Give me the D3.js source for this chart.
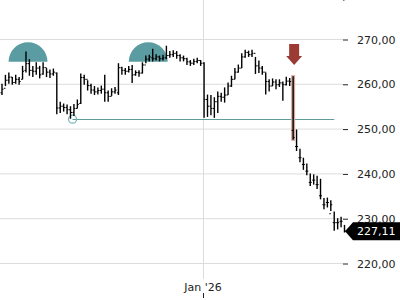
<!DOCTYPE html>
<html>
<head>
<meta charset="utf-8">
<script src="https://cdn.jsdelivr.net/npm/d3@7/dist/d3.min.js"></script>
<style>
  body { margin: 0; background: #fff; }
  svg { display: block; font-family: "DejaVu Sans", sans-serif; }
</style>
</head>
<body>
<div class="chart"></div>
<script>
// OHLC bars, one per session (index 0..100)
var opens  = [258.0,259.0,260.8,261.5,260.3,261.0,261.0,263.0,264.5,263.0,262.8,263.5,262.2,263.6,262.6,262.2,262.4,254.6,255.0,254.7,254.2,253.6,254.5,255.6,261.4,261.0,259.6,258.6,258.2,258.5,258.8,258.0,257.2,258.2,258.0,263.6,263.0,262.8,263.2,262.0,262.5,262.4,264.2,265.5,265.8,265.6,266.0,265.6,265.8,266.3,266.5,266.8,266.3,265.8,265.6,264.9,264.6,265.0,265.2,264.6,256.5,255.0,254.5,256.0,257.2,257.0,257.5,259.5,261.0,262.6,263.5,266.0,267.0,266.5,266.8,264.0,263.5,262.6,260.5,259.5,260.4,259.8,260.2,259.8,260.6,249.6,246.0,243.5,242.0,240.5,238.0,238.5,237.5,235.0,233.0,233.5,231.0,229.0,229.0,229.3];
var highs  = [260.0,262.0,262.5,261.5,262.0,261.5,264.0,267.2,265.5,264.0,264.8,264.0,264.8,263.5,263.2,263.4,262.5,256.0,255.6,255.4,255.0,255.5,256.5,262.3,262.0,260.8,260.0,259.5,259.2,259.6,262.0,258.5,259.0,259.3,264.6,263.8,263.5,264.0,264.2,263.0,263.0,264.8,266.3,266.5,267.8,266.6,266.3,266.5,268.5,267.3,267.5,267.3,266.6,266.3,265.8,265.3,265.6,265.8,265.3,264.8,257.6,257.5,257.0,258.3,258.0,259.2,260.3,261.8,263.5,264.3,266.8,267.6,267.4,267.6,266.0,265.2,264.0,262.5,261.0,261.2,261.0,261.0,260.5,261.6,261.3,261.7,249.8,245.5,243.5,242.2,240.0,239.8,239.5,238.8,234.5,234.6,234.0,231.5,230.0,230.3,228.5];
var lows   = [257.5,259.5,260.0,259.8,260.0,259.8,261.0,262.5,261.8,261.5,262.0,261.2,262.0,261.5,261.3,261.8,253.2,253.5,253.8,253.2,252.2,252.8,254.5,255.5,259.8,258.5,257.8,257.5,257.6,257.8,256.0,256.0,257.3,257.8,257.5,262.0,262.0,262.5,260.2,261.8,261.6,262.3,264.6,265.0,265.0,265.2,265.0,265.2,265.5,265.8,266.0,265.6,265.0,265.0,264.2,264.0,264.2,264.6,264.0,252.4,252.6,253.0,252.4,253.5,256.0,255.8,257.5,259.3,261.0,262.5,263.5,265.8,266.0,266.0,262.2,262.4,262.0,257.6,258.3,259.5,258.8,259.3,256.2,259.6,259.5,247.5,245.0,242.5,240.8,239.6,237.2,237.5,236.5,234.2,232.0,232.4,231.6,227.2,227.5,228.0,226.8];
var closes = [258.8,260.8,261.5,260.3,261.0,260.5,262.8,264.5,263.0,262.8,263.5,262.0,263.6,262.6,262.2,262.6,254.6,255.0,254.7,254.2,253.6,254.5,255.4,261.4,261.0,259.6,258.6,258.2,258.5,258.8,258.0,257.2,258.2,258.6,263.6,263.0,262.8,263.2,262.0,262.5,262.4,264.2,265.5,266.0,265.6,266.0,265.6,265.8,266.3,266.5,266.8,266.3,265.8,265.6,264.9,264.6,265.0,265.2,264.6,256.5,255.0,254.5,256.0,257.2,257.0,257.5,259.5,261.0,262.6,263.5,266.0,267.0,266.5,266.8,264.0,263.5,262.6,260.5,259.5,260.4,259.8,260.2,259.8,260.6,260.5,248.0,246.0,243.5,242.0,240.5,238.0,238.5,237.5,235.0,233.0,233.5,233.0,229.0,229.0,229.3,227.11];

var yTicks = [220, 230, 240, 250, 260, 270];
var xTickIndex = [59];
var xTickLabels = ["Jan '26"];

// annotations
var domeIndex = [7.6, 42.7];   // teal half circles
var domeLevel = 264.9;
var arrowIndex = 85.3;          // red down arrow
var flagIndex = 85;             // highlighted bar
var supportStart = 20.6, supportEnd = 97, supportLevel = 252.1;
var lastPrice = 227.11;

var width = 400, height = 300;

var svg = d3.select(".chart")
    .append("svg")
    .attr("width", width)
    .attr("height", height);

var x = d3.scaleLinear().domain([0, closes.length - 1]).range([2, 344.5]);
var y = d3.scaleLinear().domain([220, 270]).range([263, 39]);
var fmt = function (d) { return d.toFixed(2).replace(".", ","); };

// grid
svg.selectAll("line.hgrid")
    .data(yTicks)
    .enter()
    .append("line")
    .attr("class", "hgrid")
    .attr("x1", 0).attr("x2", 343)
    .attr("y1", function (d) { return y(d) + 0.5; })
    .attr("y2", function (d) { return y(d) + 0.5; })
    .attr("stroke", "#dcdcdc");

svg.selectAll("line.vgrid")
    .data(xTickIndex)
    .enter()
    .append("line")
    .attr("class", "vgrid")
    .attr("x1", function (d) { return Math.round(x(d)) - 0.5; })
    .attr("x2", function (d) { return Math.round(x(d)) - 0.5; })
    .attr("y1", 0).attr("y2", 279)
    .attr("stroke", "#dcdcdc");

// teal domes behind the bars
var arc = d3.arc().innerRadius(0).outerRadius(19.5).startAngle(-Math.PI / 2).endAngle(Math.PI / 2);
svg.selectAll("path.dome")
    .data(domeIndex)
    .enter()
    .append("path")
    .attr("class", "dome")
    .attr("d", arc)
    .attr("transform", function (d) { return "translate(" + x(d) + "," + y(domeLevel) + ")"; })
    .attr("fill", "#5a9ca1");

// support line + circle
svg.append("line")
    .attr("x1", x(supportStart)).attr("x2", x(supportEnd))
    .attr("y1", Math.round(y(supportLevel)) + 0.5).attr("y2", Math.round(y(supportLevel)) + 0.5)
    .attr("stroke", "#5f9c9a");

svg.append("circle")
    .attr("cx", x(supportStart)).attr("cy", y(supportLevel))
    .attr("r", 4)
    .attr("fill", "none")
    .attr("stroke", "#74b3b8")
    .attr("stroke-width", 1.2);

// highlighted bar
svg.append("rect")
    .attr("x", x(flagIndex) - 2)
    .attr("width", 4)
    .attr("y", y(highs[flagIndex]) - 1)
    .attr("height", y(lows[flagIndex]) - y(highs[flagIndex]) + 2)
    .attr("fill", "#dba49e");

// OHLC bars
var bars = svg.selectAll("g.bar")
    .data(closes)
    .enter()
    .append("g")
    .attr("class", "bar");

bars.append("line")
    .attr("x1", function (d, i) { return x(i); })
    .attr("x2", function (d, i) { return x(i); })
    .attr("y1", function (d, i) { return y(highs[i]); })
    .attr("y2", function (d, i) { return y(lows[i]); })
    .attr("stroke", "#000")
    .attr("stroke-width", 1.4);

bars.append("line")
    .attr("x1", function (d, i) { return x(i) - 1.5; })
    .attr("x2", function (d, i) { return x(i); })
    .attr("y1", function (d, i) { return y(opens[i]); })
    .attr("y2", function (d, i) { return y(opens[i]); })
    .attr("stroke", "#000")
    .attr("stroke-width", 1);

bars.append("line")
    .attr("x1", function (d, i) { return x(i); })
    .attr("x2", function (d, i) { return x(i) + 1.5; })
    .attr("y1", function (d) { return y(d); })
    .attr("y2", function (d) { return y(d); })
    .attr("stroke", "#000")
    .attr("stroke-width", 1);

// red arrow
var ax = x(arrowIndex);
svg.append("path")
    .attr("d", "M" + (ax - 5) + ",44 H" + (ax + 5) + " V56 H" + (ax + 8) + " L" + ax + ",65 L" + (ax - 8) + ",56 H" + (ax - 5) + " Z")
    .attr("fill", "#9c3a34");

// y axis
var yAxis = d3.axisRight(y)
    .tickValues(yTicks)
    .tickSize(5)
    .tickPadding(9)
    .tickFormat(fmt);

var gy = svg.append("g")
    .attr("transform", "translate(343,0.5)")
    .call(yAxis);
gy.select(".domain").remove();
gy.selectAll("line").attr("stroke", "#222");
gy.selectAll("text")
    .attr("font-size", "11px")
    .attr("font-family", "DejaVu Sans")
    .attr("fill", "#222");

// x axis label
svg.selectAll("text.xlab")
    .data(xTickIndex)
    .enter()
    .append("text")
    .attr("class", "xlab")
    .attr("x", function (d) { return x(d) - 1; })
    .attr("y", 291)
    .attr("text-anchor", "middle")
    .attr("font-size", "11px")
    .attr("fill", "#222")
    .text(function (d, i) { return xTickLabels[i]; });

svg.selectAll("line.xtick")
    .data(xTickIndex)
    .enter()
    .append("line")
    .attr("class", "xtick")
    .attr("x1", function (d) { return Math.round(x(d)) - 0.5; })
    .attr("x2", function (d) { return Math.round(x(d)) - 0.5; })
    .attr("y1", 293).attr("y2", 298)
    .attr("stroke", "#222");

// last price tag
var py = y(lastPrice);
svg.append("path")
    .attr("d", "M345," + py + " L353," + (py - 9) + " H400 V" + (py + 9) + " H353 Z")
    .attr("fill", "#000");
svg.append("text")
    .attr("x", 357)
    .attr("y", py + 4)
    .attr("font-size", "11px")
    .attr("fill", "#fff")
    .text(fmt(lastPrice));
</script>
</body>
</html>
